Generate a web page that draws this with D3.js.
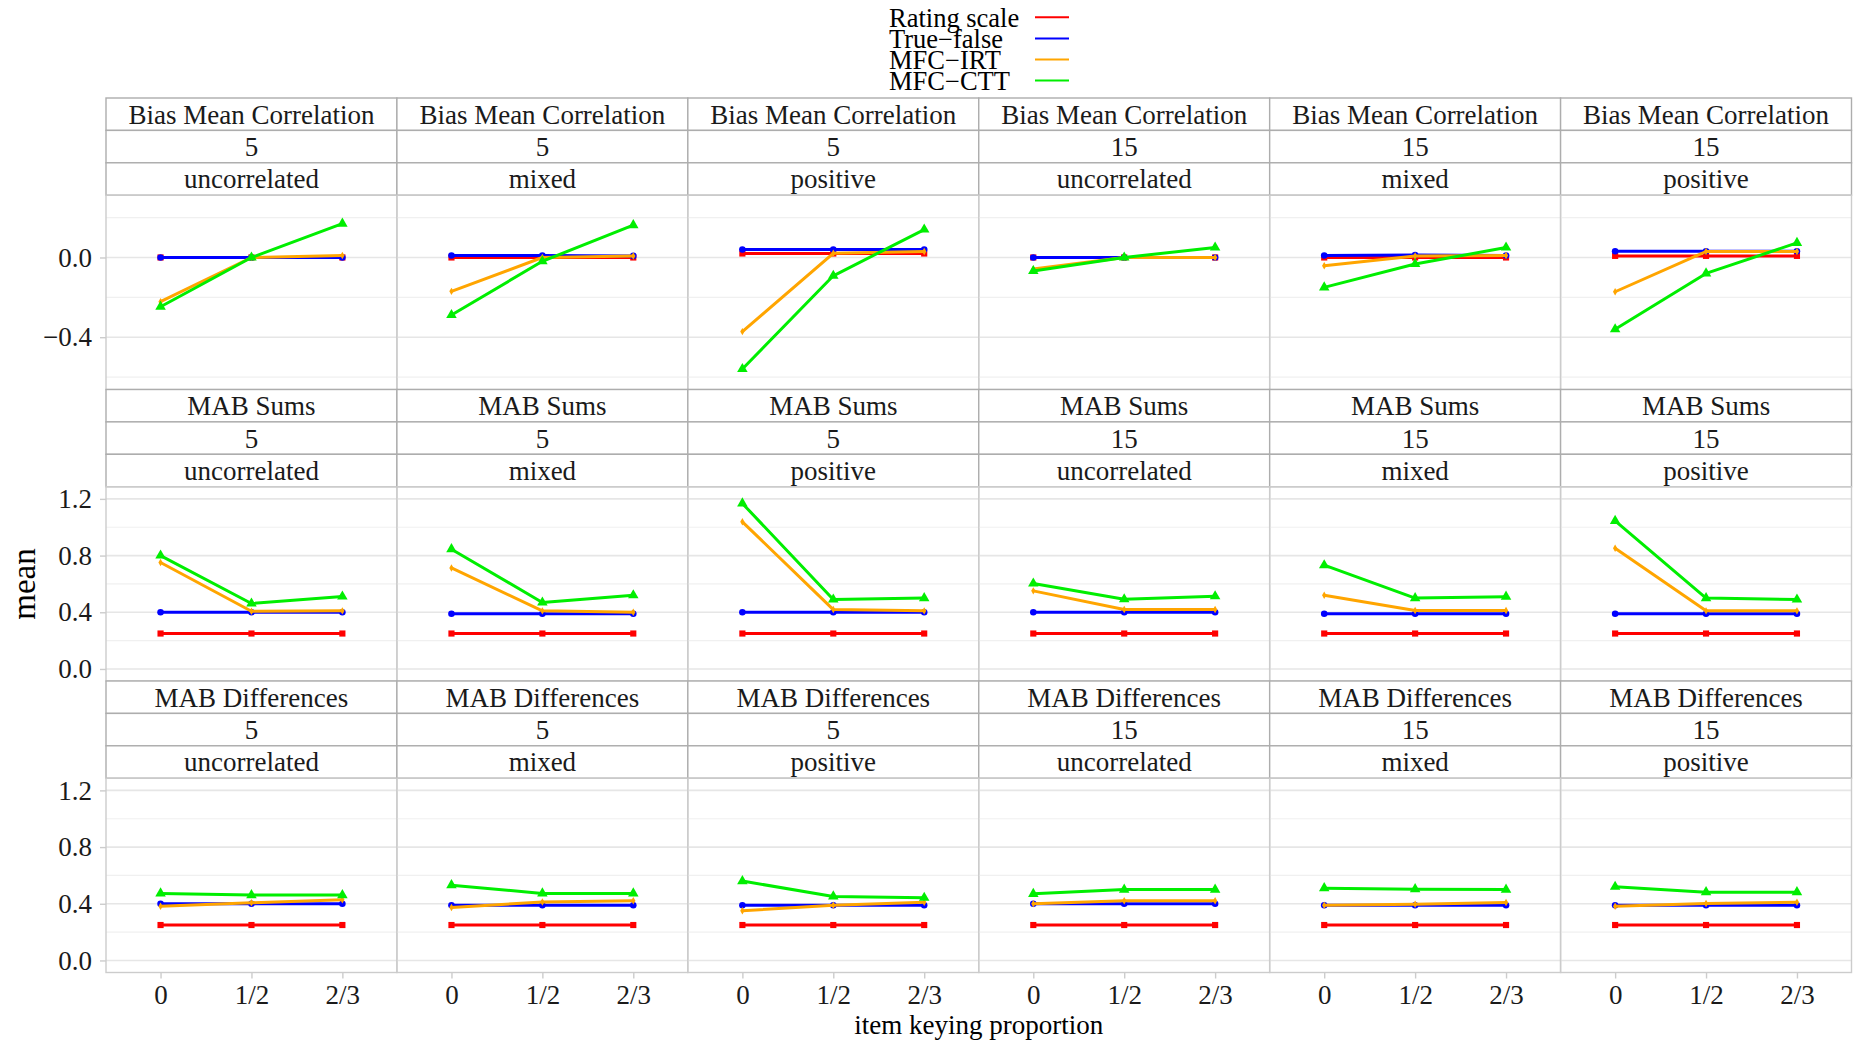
<!DOCTYPE html>
<html>
<head>
<meta charset="utf-8">
<script src="https://cdn.jsdelivr.net/npm/d3@7"></script>
<style>
  html, body { margin: 0; padding: 0; background: #fff; }
  svg { display: block; }
  svg text { font-family: "Liberation Serif", "DejaVu Serif", serif !important; }
</style>
</head>
<body>
<svg id="chart" width="1854" height="1042"></svg>
<script>
// ---------------- data ----------------
const metrics = ["Bias Mean Correlation", "MAB Sums", "MAB Differences"];
const itemCounts = ["5", "5", "5", "15", "15", "15"];
const correlations = ["uncorrelated", "mixed", "positive", "uncorrelated", "mixed", "positive"];
const keying = ["0", "1/2", "2/3"];
const methods = ["Rating scale", "True\u2212false", "MFC\u2212IRT", "MFC\u2212CTT"];
const methodColors = ["#FF0000", "#0000FF", "#FFA500", "#00EE00"];

// values[metric][panel] = [at 0, at 1/2, at 2/3]
const ratingScale = [
  [[0, 0, 0], [0, 0, 0], [0.02, 0.02, 0.02], [0, 0, 0], [0, 0, 0], [0.008, 0.008, 0.008]],
  [[0.25, 0.25, 0.25], [0.25, 0.25, 0.25], [0.25, 0.25, 0.25], [0.25, 0.25, 0.25], [0.25, 0.25, 0.25], [0.25, 0.25, 0.25]],
  [[0.25, 0.25, 0.25], [0.25, 0.25, 0.25], [0.25, 0.25, 0.25], [0.25, 0.25, 0.25], [0.25, 0.25, 0.25], [0.25, 0.25, 0.25]]
];
const trueFalse = [
  [[0, 0, 0], [0.01, 0.01, 0.008], [0.04, 0.04, 0.04], [0, 0, 0], [0.01, 0.012, 0.01], [0.031, 0.031, 0.031]],
  [[0.40, 0.40, 0.40], [0.39, 0.39, 0.39], [0.40, 0.40, 0.40], [0.40, 0.40, 0.40], [0.39, 0.39, 0.39], [0.39, 0.39, 0.39]],
  [[0.40, 0.40, 0.40], [0.39, 0.39, 0.39], [0.39, 0.39, 0.39], [0.40, 0.40, 0.40], [0.39, 0.39, 0.39], [0.39, 0.39, 0.39]]
];
const mfcIrt = [
  [[-0.222, 0, 0.01], [-0.17, 0, 0.007], [-0.372, 0.021, 0.03], [-0.058, 0, 0], [-0.042, 0.007, 0.01], [-0.172, 0.03, 0.03]],
  [[0.751, 0.407, 0.41], [0.713, 0.41, 0.40], [1.038, 0.419, 0.41], [0.551, 0.42, 0.42], [0.52, 0.412, 0.412], [0.852, 0.41, 0.41]],
  [[0.383, 0.407, 0.428], [0.374, 0.412, 0.421], [0.351, 0.39, 0.411], [0.40, 0.421, 0.421], [0.39, 0.397, 0.409], [0.383, 0.402, 0.411]]
];
const mfcCtt = [
  [[-0.247, 0, 0.17], [-0.289, -0.019, 0.162], [-0.56, -0.092, 0.14], [-0.068, 0, 0.05], [-0.15, -0.033, 0.05], [-0.36, -0.08, 0.073]],
  [[0.80, 0.462, 0.511], [0.845, 0.469, 0.52], [1.168, 0.49, 0.50], [0.603, 0.492, 0.513], [0.732, 0.50, 0.51], [1.045, 0.50, 0.49]],
  [[0.473, 0.461, 0.461], [0.531, 0.473, 0.473], [0.56, 0.452, 0.442], [0.47, 0.50, 0.50], [0.51, 0.503, 0.50], [0.52, 0.482, 0.482]]
];
const seriesValues = [ratingScale, trueFalse, mfcIrt, mfcCtt];

const yDomains = [[-0.6625, 0.3125], [-0.085, 1.286], [-0.085, 1.286]];
const yMajorTicks = [[-0.4, 0.0], [0, 0.4, 0.8, 1.2], [0, 0.4, 0.8, 1.2]];
const yMinorTicks = [[-0.6, -0.2, 0.2], [0.2, 0.6, 1.0], [0.2, 0.6, 1.0]];

// ---------------- layout ----------------
const svg = d3.select("#chart");
svg.append("rect").attr("width", 1854).attr("height", 1042).attr("fill", "#fff");

const leftX = 106, rightX = 1851.5;
const nCols = 6;
const panelW = (rightX - leftX) / nCols;
const stripH = 32.4;
const panelH = 194.3;
const rowH = 3 * stripH + panelH;
const topY = 98;
const fs = 27;

const x = d3.scalePoint().domain(keying).range([0, panelW]).padding(0.6);
const fmt = v => (v < 0 ? "\u2212" : "") + Math.abs(v).toFixed(1);

const markerShapes = [d3.symbolSquare, d3.symbolCircle, d3.symbolDiamond, d3.symbolTriangle];
const markerSizes = [38, 34, 16, 48];

metrics.forEach((metric, r) => {
  const rowTop = topY + r * rowH;
  const pTop = rowTop + 3 * stripH;
  const y = d3.scaleLinear().domain(yDomains[r]).range([panelH, 0]);

  for (let c = 0; c < nCols; c++) {
    const px = leftX + c * panelW;
    // strips
    const labels = [metric, itemCounts[c], correlations[c]];
    labels.forEach((lab, k) => {
      const sy = rowTop + k * stripH;
      svg.append("rect").attr("x", px).attr("y", sy).attr("width", panelW).attr("height", stripH)
        .attr("fill", "#fff").attr("stroke", "#ADADAD").attr("stroke-width", 1.4);
      svg.append("text").attr("x", px + panelW / 2).attr("y", sy + stripH / 2 + 0.35 * fs)
        .attr("text-anchor", "middle").attr("font-size", fs).attr("fill", "#1A1A1A").text(lab);
    });

    const g = svg.append("g").attr("transform", `translate(${px},${pTop})`);
    // gridlines
    g.selectAll(".minor").data(yMinorTicks[r]).enter().append("line")
      .attr("x1", 0).attr("x2", panelW).attr("y1", d => y(d)).attr("y2", d => y(d))
      .attr("stroke", "#F0F0F0").attr("stroke-width", 1.2);
    g.selectAll(".major").data(yMajorTicks[r]).enter().append("line")
      .attr("x1", 0).attr("x2", panelW).attr("y1", d => y(d)).attr("y2", d => y(d))
      .attr("stroke", "#E6E6E6").attr("stroke-width", 1.6);

    // series
    seriesValues.forEach((series, s) => {
      const vals = series[r][c];
      const pts = vals.map((v, i) => [x(keying[i]), y(v)]);
      g.append("path").attr("d", d3.line()(pts)).attr("fill", "none")
        .attr("stroke", methodColors[s]).attr("stroke-width", 3).attr("stroke-linejoin", "round");
      pts.forEach(p => {
        g.append("path").attr("d", d3.symbol().type(markerShapes[s]).size(markerSizes[s])())
          .attr("transform", `translate(${p[0]},${p[1]})`).attr("fill", methodColors[s]);
      });
    });

    // panel border
    g.append("rect").attr("width", panelW).attr("height", panelH).attr("fill", "none")
      .attr("stroke", "#CCCCCC").attr("stroke-width", 1.4);

    // y axis on first column
    if (c === 0) {
      const ax = g.append("g").call(d3.axisLeft(y).tickValues(yMajorTicks[r]).tickFormat(fmt).tickSize(6).tickPadding(8));
      ax.attr("font-family", null).attr("font-size", null);
      ax.select(".domain").remove();
      ax.selectAll("line").attr("stroke", "#CCCCCC").attr("stroke-width", 1.4);
      ax.selectAll("text").attr("font-size", fs).attr("fill", "#1A1A1A");
    }
    // x axis on bottom row
    if (r === metrics.length - 1) {
      const ax = g.append("g").attr("transform", `translate(0,${panelH})`)
        .call(d3.axisBottom(x).tickSize(6).tickPadding(6));
      ax.attr("font-family", null).attr("font-size", null);
      ax.select(".domain").remove();
      ax.selectAll("line").attr("stroke", "#CCCCCC").attr("stroke-width", 1.4);
      ax.selectAll("text").attr("font-size", fs).attr("fill", "#1A1A1A");
    }
  }
});

// axis titles
svg.append("text").attr("x", (leftX + rightX) / 2).attr("y", 1034)
  .attr("text-anchor", "middle").attr("font-size", fs).attr("fill", "#000").text("item keying proportion");
svg.append("text").attr("transform", "translate(35,584) rotate(-90)")
  .attr("text-anchor", "middle").attr("font-size", 33).attr("fill", "#000").text("mean");

// legend
const legend = svg.append("g");
methods.forEach((m, i) => {
  const ly = 17.3 + i * 21.1;
  legend.append("text").attr("x", 889).attr("y", ly + 9.3).attr("font-size", 26.5).attr("fill", "#000").text(m);
  legend.append("line").attr("x1", 1035).attr("x2", 1069).attr("y1", ly).attr("y2", ly)
    .attr("stroke", methodColors[i]).attr("stroke-width", 2);
});
</script>
</body>
</html>
